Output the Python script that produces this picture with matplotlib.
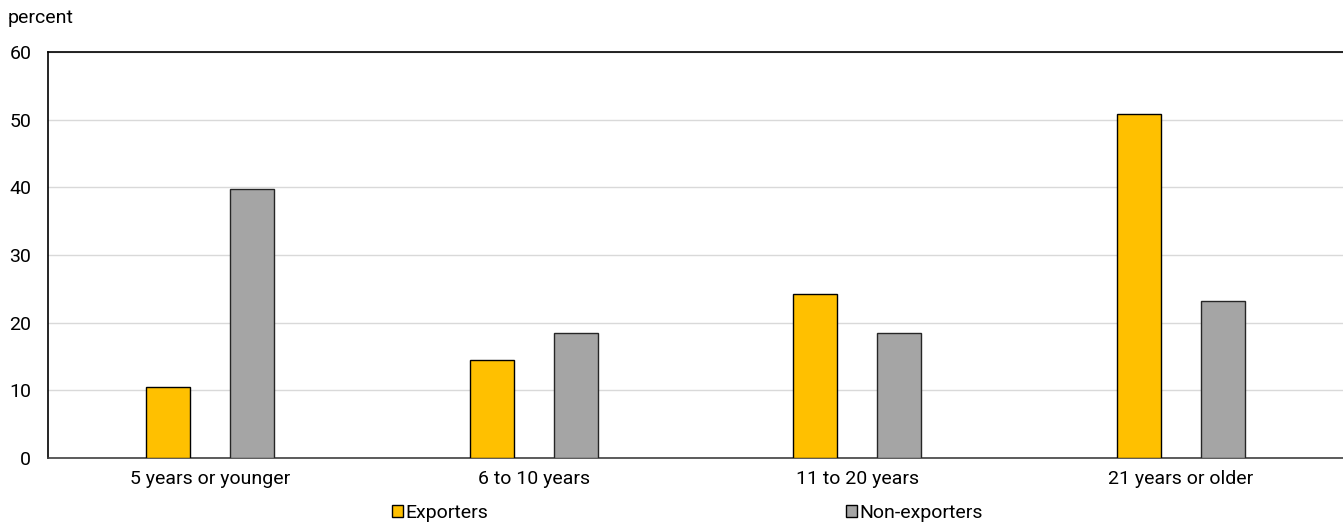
import numpy as np
import matplotlib.pyplot as plt
from matplotlib.patches import Patch

categories = ["5 years or younger", "6 to 10 years", "11 to 20 years", "21 years or older"]
exporters = [10.5, 14.5, 24.2, 50.8]
non_exporters = [39.8, 18.5, 18.5, 23.2]

plt.rcParams['font.family'] = ['Roboto', 'DejaVu Sans']

fig = plt.figure(figsize=(13.43, 5.25), dpi=100)
ax = fig.add_axes([48 / 1343, 1 - 458 / 525, 1 - 48 / 1343, (458 - 52) / 525])

x = np.arange(len(categories))
w = 0.136
off = 0.13
ax.bar(x - off, exporters, w, color="#FFC000", edgecolor="black", linewidth=1, zorder=3)
ax.bar(x + off, non_exporters, w, color="#A5A5A5", edgecolor="#262626", linewidth=1, zorder=3)

ax.set_xlim(-0.5, len(categories) - 0.5)
ax.set_ylim(0, 60)
ax.set_yticks(range(0, 61, 10))
ax.set_xticks(x)
ax.set_xticklabels(categories)
ax.tick_params(axis='both', length=0, labelsize=14, colors="#000000")
ax.tick_params(axis='x', pad=9)
ax.tick_params(axis='y', pad=12)
ax.grid(axis='y', color="#D9D9D9", linewidth=1, zorder=0)

ax.spines['left'].set_color("black")
ax.spines['top'].set_color("black")
ax.spines['bottom'].set_color("#404040")
ax.spines['right'].set_visible(False)
for s in ax.spines.values():
    s.set_linewidth(1.2)

fig.text(8 / 1343, 1 - 18 / 525, "percent", fontsize=14, va='center', ha='left')

handles = [Patch(facecolor="#FFC000", edgecolor="black", label="Exporters"),
           Patch(facecolor="#A5A5A5", edgecolor="black", label="Non-exporters")]
fig.legend(handles=handles, loc='center', bbox_to_anchor=(0.512, 1 - 513 / 525), ncol=2,
           frameon=False, fontsize=14, handlelength=0.55, handleheight=0.55,
           handletextpad=0.15, columnspacing=18.4)

fig.savefig("out.png", dpi=100)
